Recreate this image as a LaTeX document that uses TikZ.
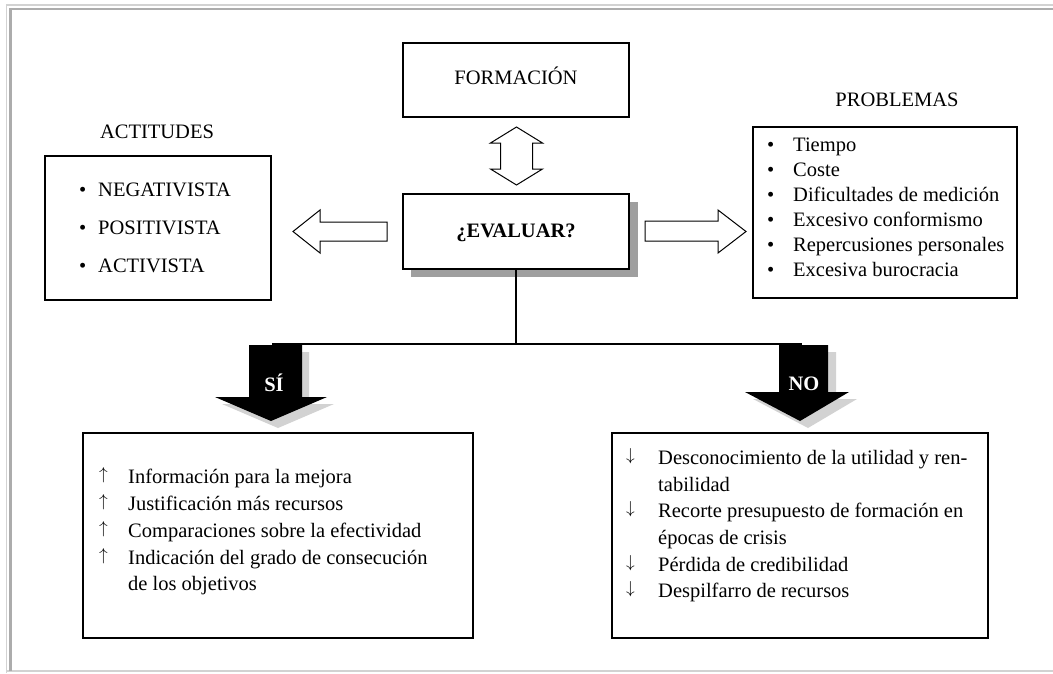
\documentclass[tikz,border=0pt]{standalone}
\usepackage{fontspec}
\setmainfont{Liberation Serif}
\newcommand{\upar}{\raisebox{3.4pt}{$\uparrow$}}
\newcommand{\dnar}{\raisebox{3.4pt}{$\downarrow$}}
\begin{document}
\begin{tikzpicture}[x=1pt,y=-1pt,
  every node/.style={font=\fontsize{20.5}{25}\selectfont, inner sep=0pt},
  boxline/.style={draw=black, line width=1.3pt},
  txt/.style={anchor=base west},
  ctxt/.style={anchor=base},
  arr/.style={anchor=base west, font=\fontsize{18}{22}\selectfont},
  hollow/.style={draw=black, line width=1pt, fill=white, line join=miter},
  blockarrow/.style={fill=black},
  blockshadow/.style={fill=gray!35},
  stem/.style={line width=2.5pt, draw=black}
]
\useasboundingbox (0,0) rectangle (1053,673);
% frame
\draw[gray!35, line width=1.2pt] (6.5,673) -- (6.5,5) -- (1053,5);
\draw[gray!35, line width=1.2pt] (6.5,671) -- (1053,671);
\draw[gray!65, line width=2.5pt] (10.5,671) -- (10.5,8.8) -- (1053,8.8);

% FORMACION
\node[boxline, minimum width=226pt, minimum height=74pt] (form) at (516,80) {};
\node[ctxt] (formt) at (516,84) {FORMACIÓN};

% double arrow
\draw[hollow] (516.5,127) -- (542.5,143) -- (532.5,143) -- (532.5,169) -- (542.5,169)
  -- (516.5,185) -- (490.5,169) -- (500.5,169) -- (500.5,143) -- (490.5,143) -- cycle;

% EVALUAR
\fill[gray!75] (411,202) rectangle (638,277);
\node[boxline, fill=white, minimum width=226pt, minimum height=75pt] (eval) at (516,231.5) {};
\node[ctxt, font=\fontsize{20.5}{25}\selectfont\bfseries] (evalt) at (516,237) {¿EVALUAR?};

% ACTITUDES
\node[ctxt] (actl) at (157,138) {ACTITUDES};
\node[boxline, minimum width=226pt, minimum height=144pt] (act) at (158,228) {};
\node[txt] (a1b) at (79,196) {•};
\node[txt] (a1) at (98,196) {NEGATIVISTA};
\node[txt] (a2b) at (79,234) {•};
\node[txt] (a2) at (98,234) {POSITIVISTA};
\node[txt] (a3b) at (79,272) {•};
\node[txt] (a3) at (98,272) {ACTIVISTA};

% left hollow arrow
\draw[hollow] (293,231.5) -- (320,210) -- (320,222) -- (387,222) -- (387,241) -- (320,241) -- (320,253) -- cycle;
% right hollow arrow
\draw[hollow] (746,231.5) -- (718,210) -- (718,221) -- (645,221) -- (645,241) -- (718,241) -- (718,253) -- cycle;

% PROBLEMAS
\node[ctxt] (probl) at (897,106) {PROBLEMAS};
\node[boxline, minimum width=264pt, minimum height=171pt] (prob) at (885,212.5) {};
\foreach \t [count=\i] in {Tiempo,Coste,Dificultades de medición,Excesivo conformismo,Repercusiones personales,Excesiva burocracia}{
  \node[txt] (pb\i) at (767,126+25*\i) {•};
  \node[txt] (p\i) at (793,126+25*\i) {\t};
}

% stem lines
\coordinate (junc) at (516,344);
\coordinate (sij) at (272,344);
\coordinate (noj) at (802,344);
\draw[stem] (eval.south) -- (junc);
\draw[stem] (sij) -- (noj);

% SI arrow
\fill[blockshadow] (256,352) -- (309,352) -- (309,404) -- (334,404) -- (278,428) -- (222,404) -- (256,404) -- cycle;
\fill[blockarrow] (249,345) -- (302,345) -- (302,397) -- (327,397) -- (271,421) -- (215,397) -- (249,397) -- cycle;
\node[ctxt, text=white, font=\fontsize{20.5}{25}\selectfont\bfseries] (si) at (274,391) {SÍ};

% NO arrow
\fill[blockshadow] (787,352) -- (836,352) -- (836,399) -- (857,399) -- (808,428) -- (753,399) -- (787,399) -- cycle;
\fill[blockarrow] (779,345) -- (828,345) -- (828,392) -- (849,392) -- (800,421) -- (745,392) -- (779,392) -- cycle;
\node[ctxt, text=white, font=\fontsize{20.5}{25}\selectfont\bfseries] (no) at (804,390) {NO};

% SI box
\node[boxline, minimum width=390pt, minimum height=205pt] (sibox) at (278,535.5) {};
\foreach \t/\y in {Información para la mejora/483, Justificación más recursos/510, Comparaciones sobre la efectividad/537, Indicación del grado de consecución/564}{
  \node[arr] at (99,\y) {\upar};
  \node[txt] at (128,\y) {\t};
}
\node[txt] (s5) at (128,590.5) {de los objetivos};

% NO box
\node[boxline, minimum width=376pt, minimum height=205pt] (nobox) at (800,535.5) {};
\node[arr] at (626,464) {\dnar};
\node[txt] at (658,464) {Desconocimiento de la utilidad y ren-};
\node[txt] at (658,491) {tabilidad};
\node[arr] at (626,517) {\dnar};
\node[txt] at (658,517) {Recorte presupuesto de formación en};
\node[txt] at (658,544) {épocas de crisis};
\node[arr] at (626,571) {\dnar};
\node[txt] at (658,571) {Pérdida de credibilidad};
\node[arr] at (626,597) {\dnar};
\node[txt] at (658,597) {Despilfarro de recursos};
\end{tikzpicture}
\end{document}
